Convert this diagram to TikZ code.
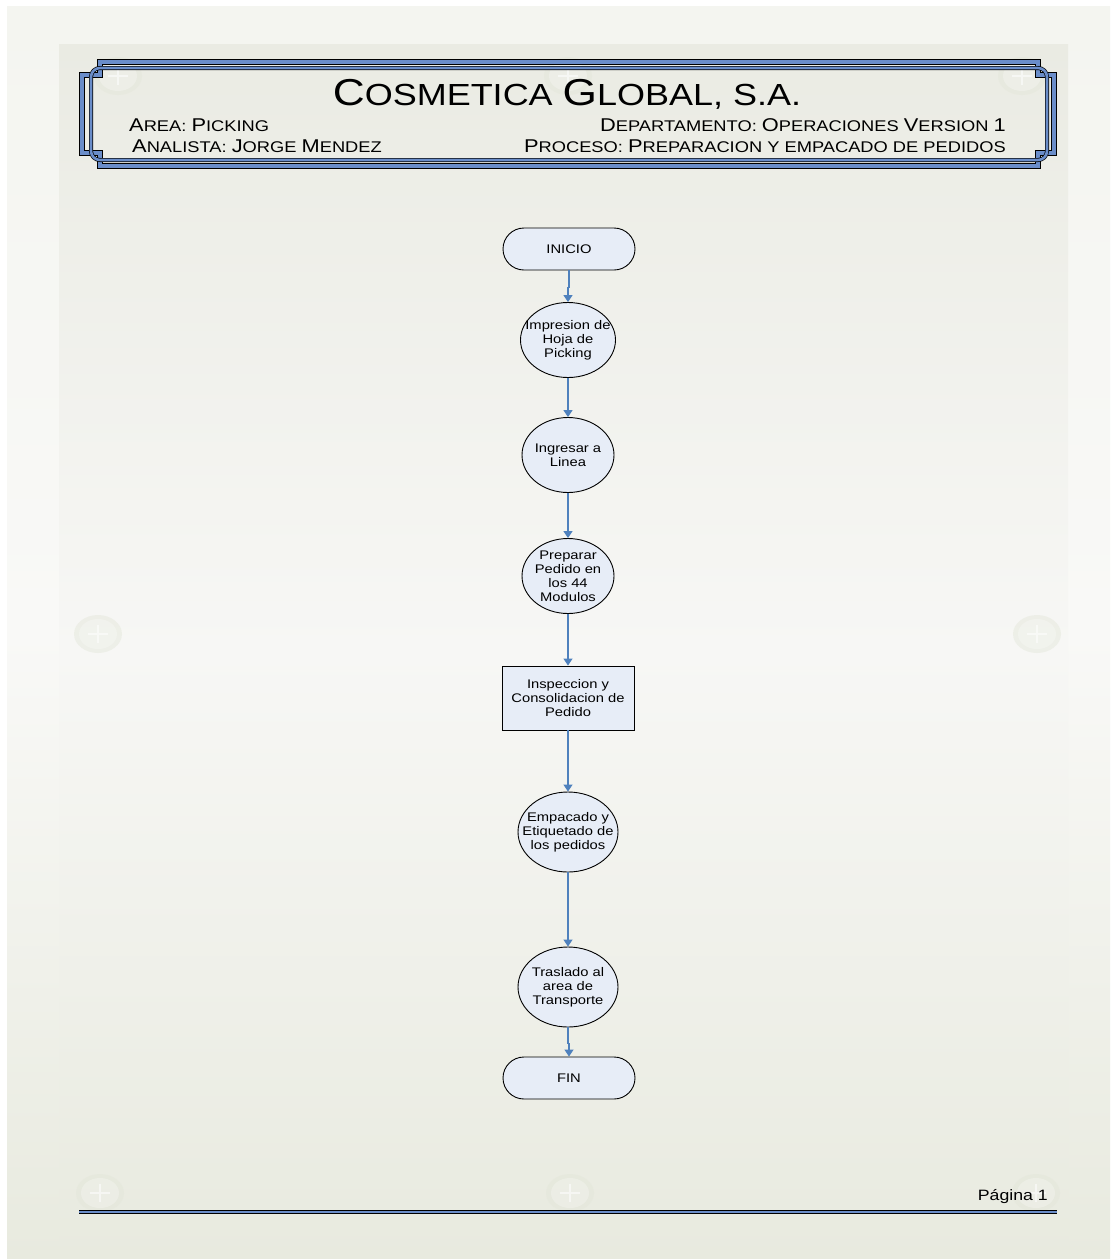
\documentclass[tikz,border=0pt]{standalone}
\usepackage{fontspec}
\setmainfont[FakeStretch=1.18]{Liberation Sans}
\usetikzlibrary{shapes.geometric,arrows.meta}
\definecolor{arrowblue}{HTML}{4F81BD}
\definecolor{nodefill}{HTML}{E7EDF7}
\definecolor{framefill}{HTML}{6A8DC9}
\definecolor{pagetop}{HTML}{F4F5F0}
\definecolor{pagemid}{HTML}{F9F9F7}
\definecolor{pagebot}{HTML}{E8EADF}
\definecolor{innertop}{HTML}{EAEBE3}
\definecolor{innermid}{HTML}{F7F7F5}
\definecolor{innerbot}{HTML}{E8EADF}
\definecolor{knob}{HTML}{E3E6D9}
\newcommand{\TL}[1]{{\fontsize{37.5}{40}\selectfont #1}}
\newcommand{\TS}[1]{{\fontsize{30.5}{33}\selectfont #1}}
\newcommand{\Lg}[1]{{\fontsize{18.5}{20}\selectfont #1}}
\newcommand{\Sm}[1]{{\fontsize{15.5}{17}\selectfont #1}}
\tikzset{
  arr/.style={draw=arrowblue, line width=1.2pt, -{Triangle[width=9pt,length=7pt]}},
  flowtxt/.style={font=\fontsize{12.5}{14}\selectfont, align=center},
  terminal/.style={draw=black, line width=0.9pt, fill=nodefill, rectangle, rounded corners=21pt,
    minimum width=132pt, minimum height=42pt, inner sep=0pt, flowtxt},
  oval/.style={draw=black, line width=0.9pt, fill=nodefill, ellipse, inner sep=0pt},
  procbox/.style={draw=black, line width=0.9pt, fill=nodefill, rectangle,
    minimum width=132pt, minimum height=64pt, inner sep=0pt, flowtxt},
  bandout/.style={draw=black, line width=0.8pt, double=framefill, double distance=3.8pt, line join=miter},
  bandin/.style={draw=black, line width=0.7pt, double=framefill, double distance=2.6pt},
  knobshape/.style={fill=knob, opacity=0.45}
}
\begin{document}
\begin{tikzpicture}[x=1pt,y=-1pt]
\useasboundingbox (0,0) rectangle (1117,1259);
% page background
\fill[white] (0,0) rectangle (1117,1259);
\shade[top color=pagetop, bottom color=pagebot, middle color=pagemid] (7,6) rectangle (1110,1259);
\shade[top color=innertop, bottom color=innerbot, middle color=innermid] (59,44) rectangle (1068,1259);
% faint knobs
\foreach \kx/\ky in {98/634, 1037/634, 100/1193, 570/1193, 1036/1193, 118/76, 568/76, 1022/76} {
  \fill[knobshape] (\kx,\ky) ellipse [x radius=24, y radius=19];
  \fill[white, opacity=0.25] (\kx,\ky) ellipse [x radius=19, y radius=15];
  \draw[white, line width=1.1pt, opacity=0.55] (\kx-10,\ky) -- (\kx+10,\ky) (\kx,\ky-9) -- (\kx,\ky+9);
}
% header frame
\draw[bandout] (100,75) -- (100,62) -- (1038,62) -- (1038,75) -- (1054,75) -- (1054,153)
  -- (1038,153) -- (1038,166) -- (100,166) -- (100,153) -- (82,153) -- (82,75) -- cycle;
\draw[bandin] (100,68) -- (1038,68) arc[start angle=-90, end angle=0, radius=9]
  -- (1047,151) arc[start angle=0, end angle=90, radius=9]
  -- (100,160) arc[start angle=90, end angle=180, radius=9]
  -- (91,77) arc[start angle=180, end angle=270, radius=9] -- cycle;
% header text
\node[anchor=base, inner sep=0pt] (title) at (567,105) {\TL{C}\TS{OSMETICA }\TL{G}\TS{LOBAL, S.A.}};
\node[anchor=base west, inner sep=0pt] (area) at (129,131) {\Lg{A}\Sm{REA: }\Lg{P}\Sm{ICKING}};
\node[anchor=base west, inner sep=0pt] (analista) at (132,152) {\Lg{A}\Sm{NALISTA: }\Lg{J}\Sm{ORGE }\Lg{M}\Sm{ENDEZ}};
\node[anchor=base east, inner sep=0pt] (depto) at (1006,131) {\Lg{D}\Sm{EPARTAMENTO: }\Lg{O}\Sm{PERACIONES }\Lg{V}\Sm{ERSION }\Lg{1}};
\node[anchor=base east, inner sep=0pt] (proceso) at (1006,152) {\Lg{P}\Sm{ROCESO: }\Lg{P}\Sm{REPARACION Y EMPACADO DE PEDIDOS}};
% flowchart
\node[terminal] (inicio) at (569,249) {INICIO};
\node[oval, minimum width=95pt, minimum height=75pt,
  label={[flowtxt]center:Impresion de\\Hoja de\\Picking}] (c1) at (568,340) {};
\node[oval, minimum width=92pt, minimum height=75pt,
  label={[flowtxt]center:Ingresar a\\Linea}] (c2) at (568,455) {};
\node[oval, minimum width=92pt, minimum height=75pt,
  label={[flowtxt]center:Preparar\\Pedido en\\los 44\\Modulos}] (c3) at (568,576) {};
\node[procbox] (r1) at (568,698) {Inspeccion y\\Consolidacion de\\Pedido};
\node[oval, minimum width=100pt, minimum height=80pt,
  label={[flowtxt]center:Empacado y\\Etiquetado de\\los pedidos}] (c4) at (568,832) {};
\node[oval, minimum width=100pt, minimum height=80pt,
  label={[flowtxt]center:Traslado al\\area de\\Transporte}] (c5) at (568,987) {};
\node[terminal] (fin) at (569,1078) {FIN};
\draw[arr] (inicio.south) -- ++(0,17) -| (c1.north);
\draw[arr] (c1) -- (c2);
\draw[arr] (c2) -- (c3);
\draw[arr] (c3) -- (r1);
\draw[arr] (r1) -- (c4);
\draw[arr] (c4) -- (c5);
\draw[arr] (c5.south) -- ++(0,16) -| (fin.north);
% footer
\coordinate (fl) at (79,1212);
\coordinate (fr) at (1057,1212);
\draw[draw=black, line width=0.7pt, double=framefill, double distance=2pt] (fl) -- (fr);
\node[anchor=base east, inner sep=0pt, font=\fontsize{15}{17}\selectfont] (pagina) at (1048,1200) {Página 1};
\end{tikzpicture}
\end{document}
